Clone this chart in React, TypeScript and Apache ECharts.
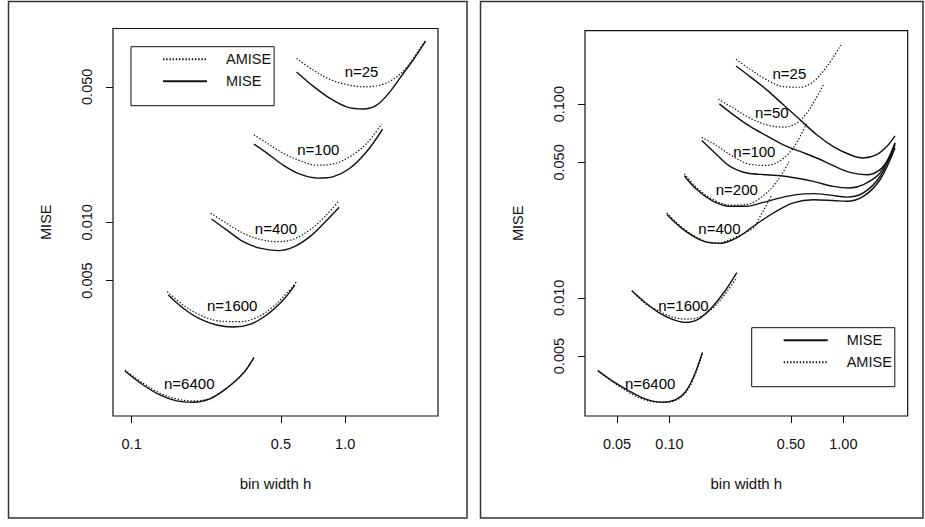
import React, { useEffect, useRef } from "react";
import * as echarts from "echarts";

// ---------- Left panel (bin width h vs MISE/AMISE, log-log) ----------
const leftNames = ["n=25", "n=100", "n=400", "n=1600", "n=6400"];

const L25_AMISE = [[0.592, 0.07], [0.708, 0.061], [0.848, 0.0546], [1.015, 0.0514], [1.214, 0.05], [1.454, 0.051], [1.678, 0.0546], [1.939, 0.063], [2.159, 0.0743], [2.379, 0.087]];
const L25_MISE = [[0.592, 0.0597], [0.708, 0.0504], [0.848, 0.0436], [1.015, 0.0394], [1.214, 0.0384], [1.403, 0.0402], [1.619, 0.0471], [1.869, 0.0586], [2.08, 0.0687], [2.379, 0.086]];
const L100_AMISE = [[0.374, 0.0282], [0.4285, 0.0257], [0.513, 0.0227], [0.614, 0.0208], [0.735, 0.0197], [0.879, 0.02], [1.052, 0.0218], [1.259, 0.0255], [1.481, 0.0321]];
const L100_MISE = [[0.374, 0.0253], [0.4285, 0.0228], [0.513, 0.0197], [0.614, 0.0177], [0.748, 0.0169], [0.879, 0.0172], [1.052, 0.019], [1.259, 0.0231], [1.497, 0.0302]];
const L400_AMISE = [[0.2344, 0.01113], [0.2785, 0.00988], [0.3331, 0.00878], [0.3987, 0.00817], [0.4773, 0.00794], [0.571, 0.00817], [0.6835, 0.00913], [0.8035, 0.01069], [0.9274, 0.01277]];
const L400_MISE = [[0.2369, 0.0104], [0.2785, 0.00913], [0.3331, 0.00794], [0.3987, 0.00735], [0.4856, 0.00714], [0.571, 0.00744], [0.6835, 0.00843], [0.8035, 0.01], [0.9374, 0.01195]];
const L1600_AMISE = [[0.1468, 0.00438], [0.1744, 0.00374], [0.2088, 0.00332], [0.2591, 0.00309], [0.3214, 0.00307], [0.3848, 0.00322], [0.4601, 0.00367], [0.5317, 0.0043], [0.5922, 0.00494]];
const L1600_MISE = [[0.1484, 0.00421], [0.1744, 0.0036], [0.2088, 0.00317], [0.25, 0.00295], [0.299, 0.00288], [0.3579, 0.00297], [0.4285, 0.00332], [0.5126, 0.00397], [0.5815, 0.00474]];
const L6400_AMISE = [[0.093, 0.001729], [0.1133, 0.001476], [0.1357, 0.001311], [0.1624, 0.001225], [0.1943, 0.001196], [0.2326, 0.001235], [0.2785, 0.001391], [0.3331, 0.001662], [0.3738, 0.002003]];
const L6400_MISE = [[0.093, 0.001708], [0.1133, 0.001446], [0.1357, 0.001284], [0.1624, 0.001196], [0.1943, 0.001178], [0.2326, 0.001225], [0.2785, 0.001391], [0.3331, 0.001662], [0.3738, 0.002003]];

const leftAmise = [L25_AMISE, L100_AMISE, L400_AMISE, L1600_AMISE, L6400_AMISE];
const leftMise = [L25_MISE, L100_MISE, L400_MISE, L1600_MISE, L6400_MISE];
const leftLabelH = [1.193, 0.748, 0.4738, 0.2958, 0.1861];
const leftLabelY = [0.0597, 0.0236, 0.00931, 0.003704, 0.001467];

const leftXTicks = [0.1, 0.5, 1.0];
const leftXTickLabels = ["0.1", "0.5", "1.0"];
const leftYTicks = [0.005, 0.01, 0.05];
const leftYTickLabels = ["0.005", "0.010", "0.050"];

// ---------- Right panel ----------
const rightNames = ["n=25", "n=50", "n=100", "n=200", "n=400", "n=1600", "n=6400"];

const R25_AMISE = [[0.24168, 0.1706], [0.29087, 0.1515], [0.36291, 0.1334], [0.45211, 0.1232], [0.56379, 0.1223], [0.67235, 0.1308], [0.80262, 0.1562], [0.97007, 0.2022]];
const R25_MISE = [[0.24168, 0.1575], [0.29087, 0.1388], [0.36291, 0.1185], [0.45211, 0.0992], [0.56379, 0.083], [0.70325, 0.0695], [0.87573, 0.0604], [1.0927, 0.0548], [1.303, 0.0527], [1.5559, 0.0548], [1.776, 0.0604], [1.982, 0.0686]];
const R50_AMISE = [[0.19125, 0.1061], [0.23323, 0.0954], [0.29087, 0.0847], [0.36291, 0.0782], [0.45211, 0.0761], [0.53974, 0.0798], [0.6163, 0.0899], [0.68768, 0.1052], [0.76739, 0.1257]];
const R50_MISE = [[0.19382, 0.1003], [0.23323, 0.0881], [0.29087, 0.0767], [0.36291, 0.0686], [0.45211, 0.0617], [0.56379, 0.057], [0.70325, 0.0527], [0.87573, 0.0481], [1.0927, 0.0444], [1.3631, 0.0432], [1.6253, 0.0459], [1.855, 0.0537], [1.982, 0.063]];
const R100_AMISE = [[0.15353, 0.0674], [0.18724, 0.061], [0.23323, 0.0535], [0.29087, 0.0489], [0.36291, 0.0483], [0.43275, 0.051], [0.51593, 0.0595], [0.61376, 0.0791]];
const R100_MISE = [[0.15353, 0.0649], [0.17898, 0.057], [0.22331, 0.0477], [0.27854, 0.0441], [0.36291, 0.0432], [0.47287, 0.0423], [0.67235, 0.0399], [0.87573, 0.0376], [1.0927, 0.0369], [1.303, 0.0384], [1.6253, 0.0441], [1.982, 0.063]];
const R200_AMISE = [[0.12195, 0.0437], [0.1437, 0.037], [0.17898, 0.0321], [0.22331, 0.0301], [0.27854, 0.0303], [0.34696, 0.0337], [0.41419, 0.0398], [0.48746, 0.0504]];
const R200_MISE = [[0.12195, 0.0427], [0.1437, 0.0362], [0.17898, 0.0315], [0.22331, 0.0297], [0.27854, 0.0297], [0.34696, 0.0311], [0.43275, 0.0328], [0.53974, 0.0341], [0.67235, 0.0345], [0.83848, 0.0339], [1.0459, 0.0331], [1.303, 0.0348], [1.6253, 0.0423], [1.982, 0.0617]];
const R400_AMISE = [[0.09662, 0.0274], [0.12036, 0.0228], [0.15683, 0.0197], [0.18724, 0.0192], [0.24396, 0.0207], [0.30388, 0.023], [0.33212, 0.0263], [0.36291, 0.0303], [0.38627, 0.0337]];
const R400_MISE = [[0.09662, 0.0269], [0.12036, 0.0225], [0.15683, 0.0196], [0.19561, 0.0191], [0.24396, 0.0204], [0.30388, 0.0234], [0.39608, 0.0274], [0.51593, 0.0309], [0.67235, 0.0321], [0.87573, 0.0318], [1.0459, 0.0315], [1.303, 0.0334], [1.6253, 0.0407], [1.982, 0.0593]];
const R1600_AMISE = [[0.0608, 0.01087], [0.07249, 0.00935], [0.08644, 0.00857], [0.10323, 0.00798], [0.12308, 0.00776], [0.14678, 0.00791], [0.17523, 0.00873], [0.20902, 0.01044], [0.24396, 0.01272]];
const R1600_MISE = [[0.0608, 0.01087], [0.07249, 0.00946], [0.08644, 0.0084], [0.10323, 0.00776], [0.12308, 0.00746], [0.14678, 0.00776], [0.17523, 0.00891], [0.20902, 0.01087], [0.24396, 0.0135]];
const R6400_AMISE = [[0.03878, 0.004204], [0.04667, 0.003703], [0.05812, 0.00325], [0.07249, 0.002966], [0.09044, 0.002876], [0.10784, 0.002945], [0.12308, 0.003211], [0.13738, 0.003805], [0.15476, 0.00512]];
const R6400_MISE = [[0.03878, 0.004204], [0.04667, 0.003734], [0.05812, 0.003316], [0.07249, 0.003001], [0.09044, 0.002886], [0.10784, 0.002966], [0.12308, 0.00325], [0.13738, 0.003883], [0.15476, 0.005224]];

const rightAmise = [R25_AMISE, R50_AMISE, R100_AMISE, R200_AMISE, R400_AMISE, R1600_AMISE, R6400_AMISE];
const rightMise = [R25_MISE, R50_MISE, R100_MISE, R200_MISE, R400_MISE, R1600_MISE, R6400_MISE];
const rightLabelH = [0.4894, 0.3878, 0.308, 0.24396, 0.19382, 0.12036, 0.07747];
const rightLabelY = [0.1445, 0.0905, 0.057, 0.0362, 0.0227, 0.00913, 0.003614];

const rightXTicks = [0.05, 0.1, 0.5, 1.0];
const rightXTickLabels = ["0.05", "0.10", "0.50", "1.00"];
const rightYTicks = [0.005, 0.01, 0.05, 0.1];
const rightYTickLabels = ["0.005", "0.010", "0.050", "0.100"];

const FONT = "'Liberation Sans', Arial, Helvetica, sans-serif";
const INK = "#111111";

function labelFor(ticks: number[], labels: string[]) {
  return (v: number) => {
    let best = 0;
    let bd = Infinity;
    ticks.forEach((t, i) => {
      const d = Math.abs(Math.log(v) - Math.log(t));
      if (d < bd) { bd = d; best = i; }
    });
    return labels[best];
  };
}

function lineSeries(name: string, data: number[][], dotted: boolean, idx: number) {
  return {
    type: "line",
    name,
    xAxisIndex: idx,
    yAxisIndex: idx,
    data,
    symbol: "none",
    showSymbol: false,
    smooth: 0.35,
    silent: true,
    z: dotted ? 3 : 2,
    itemStyle: { color: INK },
    lineStyle: dotted
      ? { color: INK, width: 1.2, type: [1.4, 1.8] }
      : { color: INK, width: 1.4, type: "solid" },
    emphasis: { disabled: true },
  };
}

function labelSeries(names: string[], hs: number[], ys: number[], idx: number) {
  return {
    type: "scatter",
    name: "curve labels",
    xAxisIndex: idx,
    yAxisIndex: idx,
    symbolSize: 1,
    silent: true,
    z: 5,
    itemStyle: { color: "rgba(0,0,0,0)" },
    data: names.map((n, i) => ({ name: n, value: [hs[i], ys[i]] })),
    label: {
      show: true,
      position: "inside",
      formatter: "{b}",
      fontSize: 15,
      color: "#000",
      opacity: 1,
      fontFamily: FONT,
    },
    emphasis: { disabled: true },
  };
}

function xAxis(idx: number, min: number, max: number, ticks: number[], labels: string[]) {
  return {
    type: "log",
    logBase: 10,
    gridIndex: idx,
    min,
    max,
    name: "bin width h",
    nameLocation: "middle",
    nameGap: 60,
    nameTextStyle: { fontSize: 15, color: INK, fontFamily: FONT },
    axisLine: { show: false },
    splitLine: { show: false },
    axisTick: { show: true, inside: false, length: 7, customValues: ticks, lineStyle: { color: INK, width: 1 } },
    axisLabel: {
      show: true,
      customValues: ticks,
      margin: 20,
      fontSize: 14.5,
      color: INK,
      fontFamily: FONT,
      formatter: labelFor(ticks, labels),
    },
  };
}

function yAxis(idx: number, min: number, max: number, ticks: number[], labels: string[]) {
  return {
    type: "log",
    logBase: 10,
    gridIndex: idx,
    min,
    max,
    name: "MISE",
    nameLocation: "middle",
    nameGap: 60,
    nameTextStyle: { fontSize: 14.5, color: INK, fontFamily: FONT },
    axisLine: { show: false },
    splitLine: { show: false },
    axisTick: { show: true, inside: false, length: 7, customValues: ticks, lineStyle: { color: INK, width: 1 } },
    axisLabel: {
      show: true,
      customValues: ticks,
      rotate: 90,
      margin: 19,
      fontSize: 14.5,
      color: INK,
      fontFamily: FONT,
      formatter: labelFor(ticks, labels),
    },
  };
}

function legend(left: number, top: number, names: string[]) {
  return {
    show: true,
    left,
    top,
    orient: "vertical",
    data: names,
    selectedMode: false,
    itemWidth: 44,
    itemHeight: 14,
    itemGap: 7,
    padding: [5, 3, 17, 31],
    borderColor: INK,
    borderWidth: 1,
    borderRadius: 0,
    itemStyle: { opacity: 0 },
    textStyle: { fontSize: 14.5, color: INK, fontFamily: FONT, padding: [0, 0, 0, 14] },
  };
}

export default function App() {
  const ref = useRef<HTMLDivElement>(null);

  useEffect(() => {
    if (!ref.current) return;
    const chart = echarts.init(ref.current, undefined, { renderer: "svg" });

    const series: any[] = [];
    leftNames.forEach((n, i) => {
      series.push(lineSeries("MISE", leftMise[i], false, 0));
      series.push(lineSeries("AMISE", leftAmise[i], true, 0));
    });
    rightNames.forEach((n, i) => {
      series.push(lineSeries("MISE", rightMise[i], false, 1));
      series.push(lineSeries("AMISE", rightAmise[i], true, 1));
    });
    series.push(labelSeries(leftNames, leftLabelH, leftLabelY, 0));
    series.push(labelSeries(rightNames, rightLabelH, rightLabelY, 1));

    chart.setOption({
      animation: false,
      backgroundColor: "#ffffff",
      textStyle: { fontFamily: FONT },
      grid: [
        { left: 113, top: 28.5, width: 325, height: 387.5, show: true, borderColor: INK, borderWidth: 1.2, backgroundColor: "transparent" },
        { left: 585, top: 30.7, width: 322.7, height: 385.3, show: true, borderColor: INK, borderWidth: 1.2, backgroundColor: "transparent" },
      ],
      xAxis: [
        xAxis(0, 0.0818, 2.72, leftXTicks, leftXTickLabels),
        xAxis(1, 0.0327, 2.345, rightXTicks, rightXTickLabels),
      ],
      yAxis: [
        yAxis(0, 0.001, 0.1, leftYTicks, leftYTickLabels),
        yAxis(1, 0.00245, 0.2396, rightYTicks, rightYTickLabels),
      ],
      legend: [legend(131, 46.7, ["AMISE", "MISE"]), legend(751.7, 327.7, ["MISE", "AMISE"])],
      graphic: [
        { type: "rect", silent: true, shape: { x: 8.5, y: 1.5, width: 458.5, height: 516.5 }, style: { fill: "none", stroke: "#333", lineWidth: 1.5 } },
        { type: "rect", silent: true, shape: { x: 480.5, y: 1.5, width: 442.5, height: 516.5 }, style: { fill: "none", stroke: "#333", lineWidth: 1.5 } },
      ],
      series,
    });

    return () => chart.dispose();
  }, []);

  return (
    <div
      ref={ref}
      style={{ position: "absolute", left: 0, top: 0, width: 925, height: 527, background: "#fff" }}
    />
  );
}
